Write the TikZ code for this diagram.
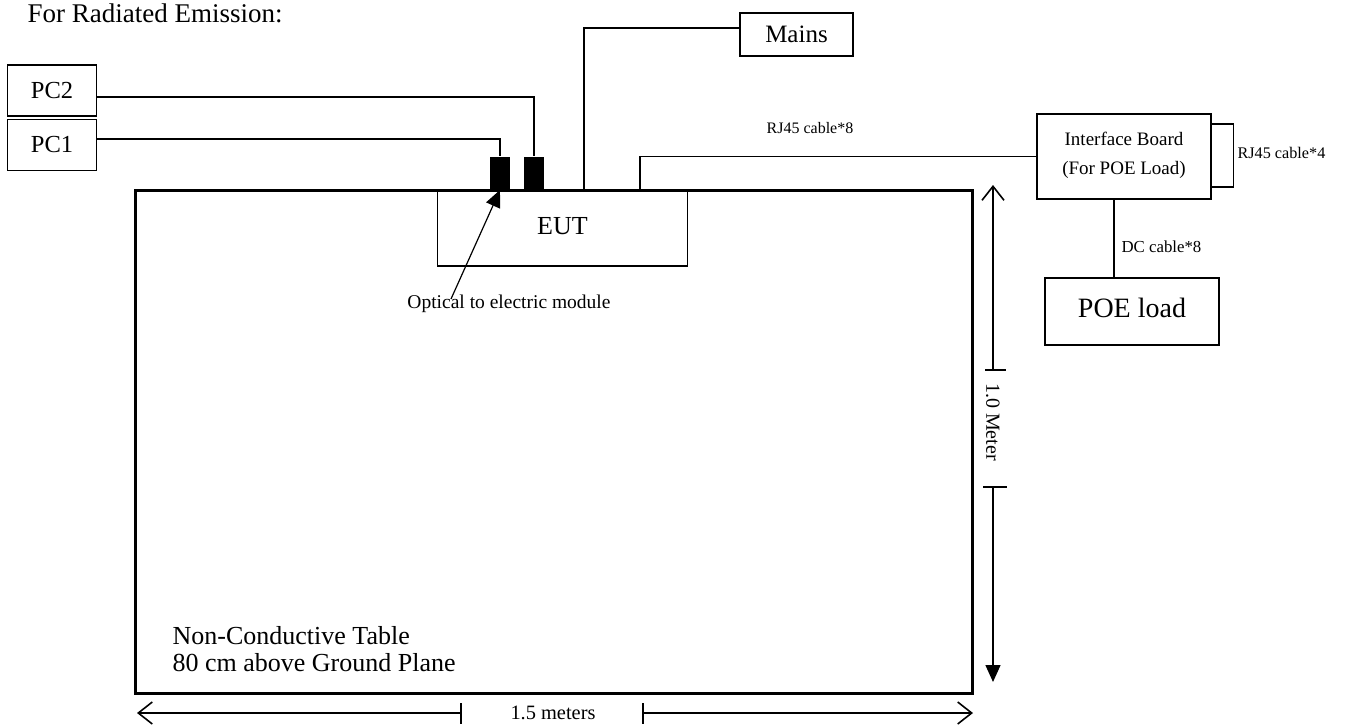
\documentclass[tikz,border=0pt]{standalone}
\usepackage{fontspec}
\setmainfont{Liberation Serif}
\usetikzlibrary{arrows.meta}
\newcommand{\fs}[1]{\fontsize{#1}{#1}\selectfont}
\begin{document}
\begin{tikzpicture}[x=1pt,y=-1pt,
  line width=1.2pt,
  box/.style={draw, line width=1.3pt, inner sep=0pt, minimum width=#1},
  blk/.style={fill=black, draw=none, minimum width=20pt, minimum height=33pt, inner sep=0pt},
  wire/.style={line width=1.2pt},
  txt/.style={inner sep=0pt},
  dimline/.style={line width=1.4pt},
  barb/.style={-{Straight Barb[length=14pt,width=22pt,line width=1.6pt]}},
  tri/.style={-{Triangle[length=17pt,width=15pt]}}
]
\useasboundingbox (0,0) rectangle (1345,726);
% title
\node[txt, anchor=base west, font=\fs{27}] (title) at (27,22) {For Radiated Emission:};
% PCs
\node[box=89pt, minimum height=51pt, font=\fs{24.5}] (pc2) at (52,90.5) {\raisebox{-6pt}{PC2}};
\node[box=89pt, minimum height=51pt, font=\fs{24.5}] (pc1) at (52,145) {\raisebox{-6pt}{PC1}};
% table
\node[draw, line width=3pt, minimum width=837pt, minimum height=503pt, inner sep=0pt] (table) at (554,441.5) {};
\node[txt, anchor=west, align=left, font=\fs{26}] (tabtxt) at (172,649) {Non-Conductive Table\\[1pt]80 cm above Ground Plane};
% EUT
\node[box=250pt, minimum height=75pt, font=\fs{26}] (eut) at (562.5,228.5) {\raisebox{6pt}{EUT}};
% blocks
\node[blk] (b1) at (500,173.5) {};
\node[blk] (b2) at (534,173.5) {};
% mains
\node[box=113pt, minimum height=43pt, font=\fs{25}] (mains) at (796.5,34.5) {Mains};
% interface board
\node[box=174pt, minimum height=85pt, font=\fs{19}] (ib) at (1124,156.5) {\raisebox{9pt}{\begin{tabular}{@{}c@{}}Interface Board\\[10pt](For POE Load)\end{tabular}}};
% POE load
\node[box=174pt, minimum height=67pt, font=\fs{28}] (poe) at (1132,311.5) {\raisebox{8pt}{POE load}};
% connectors
\draw[wire] ([yshift=-6.5pt]pc2.east) -| (b2.north);
\draw[wire] ([yshift=6pt]pc1.east) -| (b1.north);
\coordinate (mainsin) at (584,190);
\draw[wire] (mainsin) |- ([yshift=6.5pt]mains.west);
\coordinate (rjin) at (640,190);
\draw[wire] (rjin) |- (ib.west);
\node[txt, font=\fs{16}] (rj8) at (810,128) {RJ45 cable*8};
\draw[wire] ([yshift=32.5pt]ib.east) -- ++(22,0) coordinate (rjb1) -- ++(0,63) coordinate (rjb2) -- ([yshift=-30.5pt]ib.east);
\node[txt, anchor=west, font=\fs{16.2}] (rj4) at (1237,153) {RJ45 cable*4};
\coordinate (dc1) at (1114,199);
\draw[wire] (dc1) -- (dc1 |- poe.north);
\node[txt, anchor=west, font=\fs{16.8}] (dc) at (1121,247) {DC cable*8};
% optical
\node[txt, font=\fs{19.5}] (opt) at (509,304) {Optical to electric module};
\coordinate (opttip) at (500,190);
\draw[wire, tri] (451,299) -- (opttip);
% vertical dimension
\coordinate (vtop) at (993,185);
\coordinate (vt1) at (993,370);
\coordinate (vt2) at (993,487);
\coordinate (vbot) at (993,682);
\draw[dimline, barb] (vt1) -- (vtop);
\draw[dimline, tri] (vt2) -- (vbot);
\draw[dimline] (985,370) -- (1006,370);
\draw[dimline] (983,487) -- (1007,487);
\node[txt, rotate=-90, font=\fs{20}] (meter) at (993,422) {1.0 Meter};
% horizontal dimension
\coordinate (hl) at (137,713);
\coordinate (hl1) at (461,713);
\coordinate (hr1) at (643,713);
\coordinate (hr) at (973,713);
\draw[dimline, barb] (hl1) -- (hl);
\draw[dimline, barb] (hr1) -- (hr);
\draw[dimline] (461,703) -- (461,724);
\draw[dimline] (643,703) -- (643,724);
\node[txt, font=\fs{20.4}] (m15) at (553,713) {1.5 meters};
\end{tikzpicture}
\end{document}
